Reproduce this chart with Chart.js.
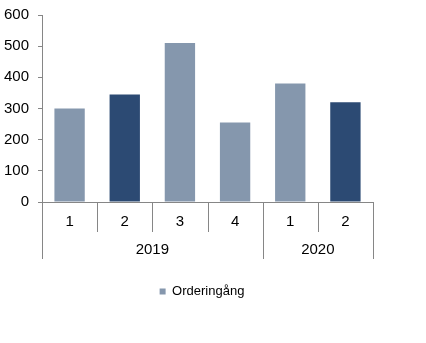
<!DOCTYPE html>
<html>
<head>
<meta charset="utf-8">
<script src="https://cdn.jsdelivr.net/npm/chart.js@4/dist/chart.umd.min.js"></script>
<style>
html,body{margin:0;padding:0;background:#fff;}
#wrap{width:426px;height:343px;}
</style>
</head>
<body>
<div id="wrap"><canvas id="c" width="426" height="343"></canvas></div>
<script>
const quarters = ['1', '2', '3', '4', '1', '2'];
const years = ['2019', '2020'];
const yearSpans = [4, 2];
const orderIntake = [300, 345, 510, 255, 380, 320];
const yTicks = [0, 100, 200, 300, 400, 500, 600];
const seriesName = 'Orderingång';

const LIGHT = '#8597AD';
const DARK = '#2C4A73';
const AXIS = '#868686';
const FONT = 'Liberation Sans, Arial, sans-serif';

const groupAxis = {
  id: 'groupAxis',
  afterDraw(chart) {
    const x = chart.scales.x;
    const ctx = chart.ctx;
    const n = quarters.length;
    const step = x.getPixelForValue(1) - x.getPixelForValue(0);
    const top = Math.round(x.top);
    const bounds = new Set([0]);
    let acc = 0;
    yearSpans.forEach(s => { acc += s; bounds.add(acc); });
    ctx.save();
    ctx.strokeStyle = AXIS;
    ctx.lineWidth = 1;
    for (let i = 0; i <= n; i++) {
      const px = Math.round(x.getPixelForValue(i) - step / 2) + 0.5;
      const len = bounds.has(i) ? 57 : 30;
      ctx.beginPath();
      ctx.moveTo(px, top);
      ctx.lineTo(px, top + len);
      ctx.stroke();
    }
    ctx.fillStyle = '#000';
    ctx.font = '15px ' + FONT;
    ctx.textAlign = 'center';
    ctx.textBaseline = 'middle';
    let start = 0;
    years.forEach((yr, k) => {
      const end = start + yearSpans[k];
      const left = x.getPixelForValue(start) - step / 2;
      const right = x.getPixelForValue(end - 1) + step / 2;
      ctx.fillText(yr, (left + right) / 2, top + 48);
      start = end;
    });
    ctx.restore();
  }
};

new Chart(document.getElementById('c'), {
  type: 'bar',
  data: {
    labels: quarters,
    datasets: [{
      label: seriesName,
      data: orderIntake,
      backgroundColor: ctx => quarters[ctx.dataIndex] === '2' ? DARK : LIGHT,
      categoryPercentage: 1,
      barPercentage: 0.55
    }]
  },
  options: {
    responsive: false,
    animation: false,
    devicePixelRatio: 1,
    layout: { padding: { left: 0, right: 22, top: 15, bottom: 35 } },
    plugins: {
      tooltip: { enabled: false },
      legend: {
        position: 'bottom',
        labels: {
          boxWidth: 6,
          boxHeight: 6,
          color: '#000',
          font: { size: 13, family: FONT },
          padding: 10
        }
      }
    },
    scales: {
      x: {
        grid: { display: false, drawTicks: false },
        border: { display: true, color: AXIS },
        ticks: { color: '#000', font: { size: 15, family: FONT }, padding: 11, maxRotation: 0 },
        afterFit(s) { s.height = 73; }
      },
      y: {
        min: 0,
        max: 600,
        afterBuildTicks(s) { s.ticks = yTicks.map(v => ({ value: v })); },
        grid: { drawOnChartArea: false, drawTicks: true, tickLength: 4, color: AXIS },
        border: { display: true, color: AXIS },
        ticks: { color: '#000', font: { size: 15, family: FONT }, padding: 9 },
        afterFit(s) { s.width = 42; s.paddingTop = 0; s.paddingBottom = 0; }
      },
      spacer: {
        position: 'right',
        display: true,
        grid: { display: false, drawTicks: false },
        border: { display: false },
        ticks: { display: false },
        afterFit(s) { s.width = 31; s.paddingTop = 0; s.paddingBottom = 0; }
      }
    }
  },
  plugins: [groupAxis]
});
</script>
</body>
</html>
